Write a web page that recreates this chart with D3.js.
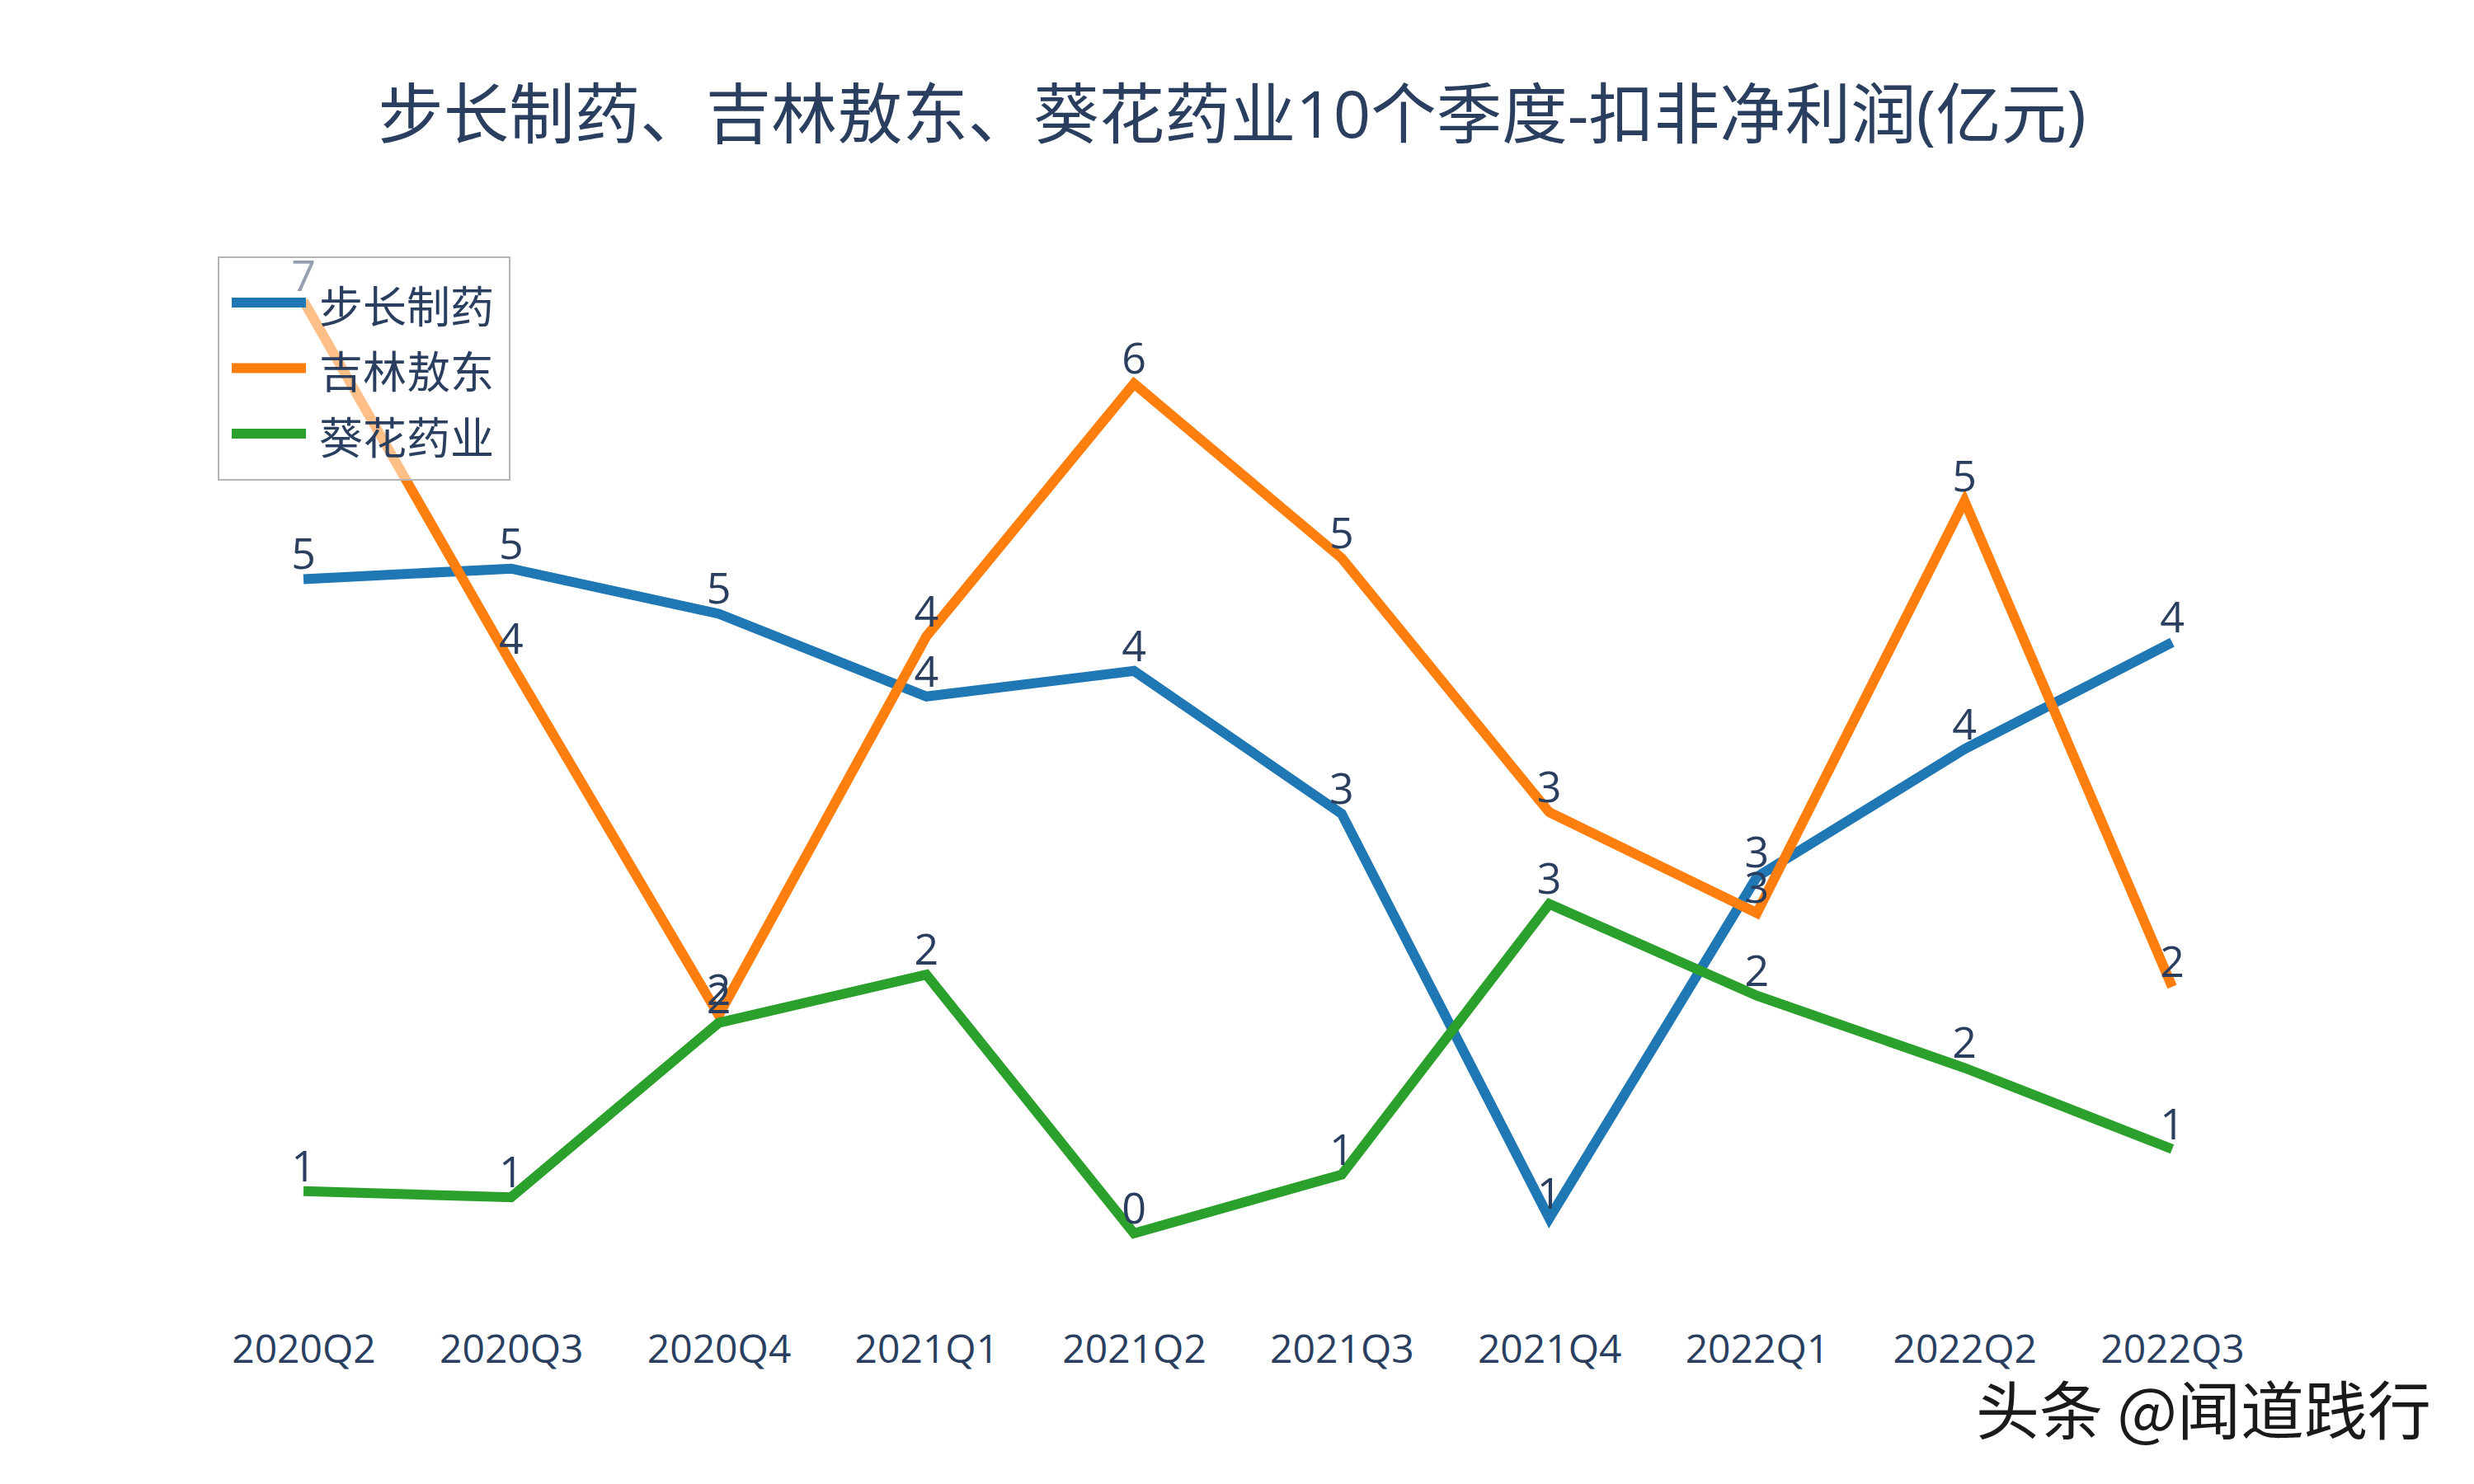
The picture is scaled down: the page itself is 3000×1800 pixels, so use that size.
<!DOCTYPE html>
<html>
<head>
<meta charset="utf-8">
<script src="https://cdn.jsdelivr.net/npm/d3@7"></script>
<style>
  html, body { margin: 0; padding: 0; background: #fff; }
  svg { display: block; }
  text { font-family: "Open Sans", "Noto Sans CJK SC", sans-serif; }
</style>
</head>
<body>
<svg id="chart" width="3000" height="1800"></svg>
<script>
const title = "步长制药、吉林敖东、葵花药业10个季度-扣非净利润(亿元)";
const quarters = ["2020Q2","2020Q3","2020Q4","2021Q1","2021Q2","2021Q3","2021Q4","2022Q1","2022Q2","2022Q3"];
const seriesNames = ["步长制药","吉林敖东","葵花药业"];
const buchang = [4.80, 4.87, 4.57, 4.02, 4.19, 3.24, 0.55, 2.82, 3.67, 4.38];
const aodong  = [6.65, 4.24, 1.90, 4.42, 6.10, 4.94, 3.25, 2.58, 5.32, 2.09];
const kuihua  = [0.73, 0.69, 1.85, 2.17, 0.45, 0.84, 2.64, 2.03, 1.55, 1.01];
const colors = ["#1f77b4", "#ff7f0e", "#2ca02c"];
const watermark = "头条 @闻道践行";

const series = [buchang, aodong, kuihua].map((vals, i) => ({
  name: seriesNames[i], color: colors[i],
  values: vals.map((v, j) => ({ q: quarters[j], v }))
}));

const svg = d3.select("#chart");
const W = 3000, H = 1800;
svg.append("rect").attr("width", W).attr("height", H).attr("fill", "#fff");

const x = d3.scalePoint().domain(quarters).range([368, 2634]);
const y = d3.scaleLinear().domain([0, 7]).range([1578, 1578 - 7 * 182.4]);
const textColor = "#2a3f5f";

// title
svg.append("text")
  .attr("x", 1494).attr("y", 167)
  .attr("text-anchor", "middle")
  .attr("font-size", 79.5)
  .attr("fill", textColor)
  .text(title);

// x axis tick labels (no axis line)
const xAxis = d3.axisBottom(x).tickSize(0).tickPadding(0);
const gx = svg.append("g").attr("transform", "translate(0,1619)").call(xAxis);
gx.select(".domain").remove();
gx.selectAll("text")
  .attr("font-size", 48)
  .attr("fill", textColor)
  .attr("dy", "0.71em")
  .attr("y", 0)
  .style("font-family", "'Open Sans', sans-serif");

const line = d3.line().x(d => x(d.q)).y(d => y(d.v));
const fmt = d3.format(".0f");

series.forEach(s => {
  const g = svg.append("g");
  g.append("path")
    .datum(s.values)
    .attr("d", line)
    .attr("fill", "none")
    .attr("stroke", s.color)
    .attr("stroke-width", 12)
    .attr("stroke-linejoin", "miter");
  g.selectAll("text.lbl")
    .data(s.values)
    .enter().append("text")
    .attr("class", "lbl")
    .attr("x", d => x(d.q))
    .attr("y", d => y(d.v) - 12)
    .attr("text-anchor", "middle")
    .attr("font-size", 52)
    .attr("fill", textColor)
    .text(d => fmt(d.v));
});

// legend
const lg = svg.append("g");
lg.append("rect")
  .attr("x", 265).attr("y", 312).attr("width", 353).attr("height", 270)
  .attr("fill", "#fff").attr("fill-opacity", 0.5)
  .attr("stroke", "#b4b4b4").attr("stroke-width", 2);
series.forEach((s, i) => {
  const cy = 367 + i * 79.5;
  lg.append("line")
    .attr("x1", 281).attr("x2", 371).attr("y1", cy).attr("y2", cy)
    .attr("stroke", s.color).attr("stroke-width", 12);
  lg.append("text")
    .attr("x", 387).attr("y", cy + 4)
    .attr("dominant-baseline", "central")
    .attr("font-size", 53)
    .attr("fill", textColor)
    .text(s.name);
});

// watermark
svg.append("text")
  .attr("x", 2396).attr("y", 1740)
  .attr("font-size", 77)
  .attr("fill", "#1a1a1a")
  .attr("stroke", "#ffffff").attr("stroke-width", 2)
  .attr("paint-order", "stroke")
  .style("font-family", "'Noto Sans CJK SC', sans-serif")
  .text(watermark);
</script>
</body>
</html>
